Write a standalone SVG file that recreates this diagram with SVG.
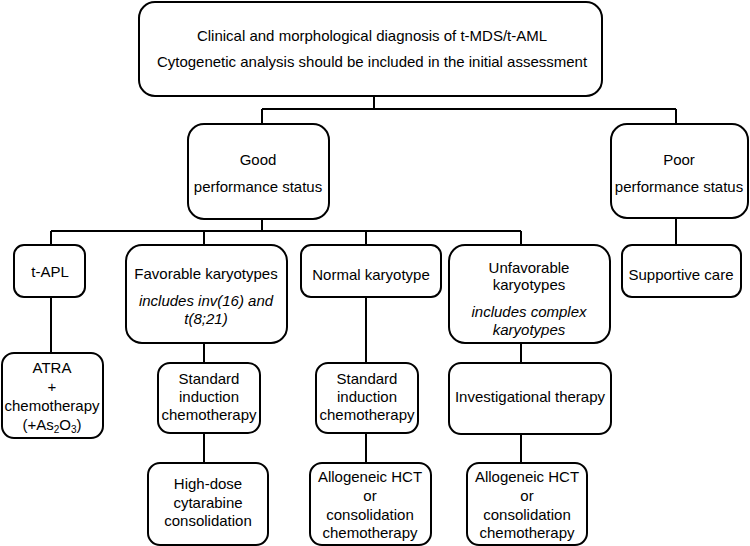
<svg xmlns="http://www.w3.org/2000/svg" width="750" height="546" viewBox="0 0 750 546">
<style>
rect{fill:#fff;stroke:#000;stroke-width:2}
text{font-family:"Liberation Sans",Arial,sans-serif;font-size:15px;fill:#000;text-anchor:middle}
.i{font-style:italic}
.c path{fill:none;stroke:#000;stroke-width:2}
</style>
<rect x="0" y="0" width="750" height="546" style="stroke:none"/>
<g class="c" id="connectors">
<path d="M374 96V109M262 109H676M262 109V124M676 109V124"/>
<path d="M262 219V231M51 231H521M51 231V245M204 231V245M366 231V245M521 231V245"/>
<path d="M676 218V245"/>
<path d="M51 297V353"/>
<path d="M204 343V363M204 433V463"/>
<path d="M366 297V363M366 433V463"/>
<path d="M521 343V363M521 434V463"/>
</g>
<g id="top"><rect x="139" y="2" width="463" height="94" rx="16"/>
<text x="372" y="41">Clinical and morphological diagnosis of t-MDS/t-AML</text>
<text x="372" y="67">Cytogenetic analysis should be included in the initial assessment</text></g>
<g id="good"><rect x="188" y="124" width="141" height="95" rx="16"/>
<text x="258" y="165">Good</text><text x="258" y="192">performance status</text></g>
<g id="poor"><rect x="611" y="124" width="137" height="94" rx="16"/>
<text x="679" y="165">Poor</text><text x="679" y="192">performance status</text></g>
<g id="tapl"><rect x="14" y="245" width="71" height="52" rx="10"/>
<text x="50" y="277">t-APL</text></g>
<g id="fav"><rect x="126" y="245" width="161" height="98" rx="16"/>
<text x="206" y="279">Favorable karyotypes</text>
<text class="i" x="206" y="306">includes inv(16) and</text>
<text class="i" x="206" y="324">t(8;21)</text></g>
<g id="normal"><rect x="301" y="245" width="140" height="52" rx="10"/>
<text x="371" y="280">Normal karyotype</text></g>
<g id="unfav"><rect x="449" y="245" width="161" height="98" rx="16"/>
<text x="529" y="273">Unfavorable</text><text x="529" y="290">karyotypes</text>
<text class="i" x="529" y="317">includes complex</text>
<text class="i" x="529" y="335">karyotypes</text></g>
<g id="supp"><rect x="622" y="245" width="119" height="52" rx="10"/>
<text x="681" y="280">Supportive care</text></g>
<g id="atra"><rect x="2" y="353" width="101" height="85" rx="12"/>
<text x="52" y="373">ATRA</text><text x="52" y="392">+</text><text x="52" y="411">chemotherapy</text>
<text x="52" y="430">(+As<tspan dy="3" font-size="10">2</tspan><tspan dy="-3">O</tspan><tspan dy="3" font-size="10">3</tspan><tspan dy="-3">)</tspan></text></g>
<g id="std1"><rect x="158" y="363" width="102" height="70" rx="12"/>
<text x="209" y="384">Standard</text><text x="209" y="402">induction</text><text x="209" y="420">chemotherapy</text></g>
<g id="hd"><rect x="148" y="463" width="120" height="82" rx="12"/>
<text x="208" y="489">High-dose</text><text x="208" y="508">cytarabine</text><text x="208" y="526">consolidation</text></g>
<g id="std2"><rect x="316" y="363" width="102" height="70" rx="12"/>
<text x="367" y="384">Standard</text><text x="367" y="402">induction</text><text x="367" y="420">chemotherapy</text></g>
<g id="allo1"><rect x="310" y="463" width="121" height="82" rx="12"/>
<text x="370" y="482">Allogeneic HCT</text><text x="370" y="501">or</text><text x="370" y="520">consolidation</text><text x="370" y="538">chemotherapy</text></g>
<g id="inv"><rect x="449" y="363" width="162" height="71" rx="12"/>
<text x="530" y="402">Investigational therapy</text></g>
<g id="allo2"><rect x="467" y="463" width="120" height="82" rx="12"/>
<text x="527" y="482">Allogeneic HCT</text><text x="527" y="501">or</text><text x="527" y="520">consolidation</text><text x="527" y="538">chemotherapy</text></g>
</svg>
